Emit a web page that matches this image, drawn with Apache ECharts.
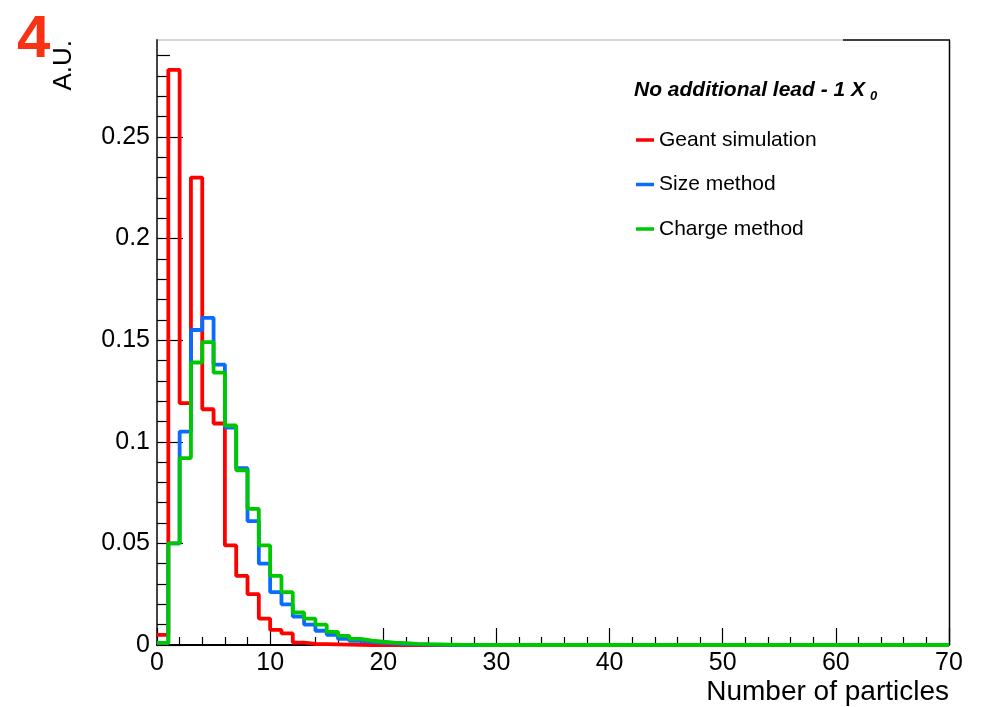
<!DOCTYPE html>
<html>
<head>
<meta charset="utf-8">
<script src="https://cdn.jsdelivr.net/npm/echarts@6/dist/echarts.min.js"></script>
<style>html,body{margin:0;padding:0;background:#fff}#c{width:982px;height:707px}</style>
</head>
<body>
<div id="c"></div>
<script>
// Histogram bins: width 1, from 0 to 70
const xMin = 0;
const binWidth = 1;
const xTicks = [0, 10, 20, 30, 40, 50, 60, 70];
const yTicks = [0, 0.05, 0.1, 0.15, 0.2, 0.25];
const yMinorTicks = [0.01,0.02,0.03,0.04,0.06,0.07,0.08,0.09,0.11,0.12,0.13,0.14,0.16,0.17,0.18,0.19,0.21,0.22,0.23,0.24,0.26,0.27,0.28,0.29];
const seriesNames = ['Geant simulation', 'Size method', 'Charge method'];

const geant = [0.005,0.283,0.119,0.230,0.116,0.109,0.049,0.034,0.025,0.013,
  0.0074,0.0057,0.0012,0.0005,0.0004,0.0003,0.0002,0.0001,0,0,
  0,0,0,0,0,0,0,0,0,0, 0,0,0,0,0,0,0,0,0,0,
  0,0,0,0,0,0,0,0,0,0, 0,0,0,0,0,0,0,0,0,0, 0,0,0,0,0,0,0,0,0,0];
const sizeMethod = [0.001,0.050,0.105,0.155,0.161,0.138,0.107,0.087,0.061,0.040,
  0.026,0.020,0.014,0.010,0.007,0.005,0.003,0.002,0.0015,0.001,
  0.0008,0.0005,0.0003,0.0002,0.0001,0.0001,0,0,0,0, 0,0,0,0,0,0,0,0,0,0,
  0,0,0,0,0,0,0,0,0,0, 0,0,0,0,0,0,0,0,0,0, 0,0,0,0,0,0,0,0,0,0];
const chargeMethod = [0.001,0.050,0.092,0.139,0.149,0.134,0.108,0.086,0.067,0.049,
  0.034,0.026,0.016,0.013,0.010,0.0065,0.0045,0.003,0.0022,0.0016,
  0.0012,0.0009,0.0006,0.0004,0.0003,0.0002,0.0001,0.0001,0,0, 0,0,0,0,0,0,0,0,0,0,
  0,0,0,0,0,0,0,0,0,0, 0,0,0,0,0,0,0,0,0,0, 0,0,0,0,0,0,0,0,0,0];

function toSteps(vals) {
  const pts = vals.map((v, i) => [xMin + i * binWidth, v]);
  pts.push([xMin + vals.length * binWidth, vals[vals.length - 1]]);
  return pts;
}

const FONT = 'Liberation Sans, Arial, Helvetica, sans-serif';
const colors = ['#ff0000', '#0a6cff', '#00c800'];

const chart = echarts.init(document.getElementById('c'), null, {renderer: 'canvas'});
const mkSeries = (name, vals, color, z) => ({
  name, type: 'line', step: 'end', data: toSteps(vals), showSymbol: false, symbol: 'none',
  xAxisIndex: 0, yAxisIndex: 0, z,
  lineStyle: {color, width: 3.8}, itemStyle: {color}, clip: true, animation: false
});

chart.setOption({
  animation: false,
  backgroundColor: '#fff',
  title: [
    {text: '4', left: 17, top: 10, padding: 0, textStyle: {fontFamily: FONT, fontSize: 60, fontWeight: 'bold', color: '#fa3214'}},
    {text: '{a|No additional lead - 1 X}{b|0}', left: 634, top: 77, padding: 0,
     textStyle: {fontFamily: FONT, rich: {
       a: {fontFamily: FONT, fontSize: 21, fontWeight: 'bold', fontStyle: 'italic', color: '#000'},
       b: {fontFamily: FONT, fontSize: 13, fontWeight: 'bold', fontStyle: 'italic', color: '#000', padding: [13, 0, 0, 5]}
     }}}
  ],
  legend: {
    orient: 'vertical', left: 636, top: 129.5, padding: 0, itemWidth: 18, itemHeight: 3.5, itemGap: 23.5,
    icon: 'rect', data: seriesNames,
    textStyle: {fontFamily: FONT, fontSize: 21, color: '#000'}
  },
  grid: {left: 157, right: 33, top: 40, bottom: 62, containLabel: false},
  xAxis: {
    type: 'value', min: xTicks[0], max: xTicks[xTicks.length - 1], interval: 10,
    name: 'Number of particles', nameLocation: 'end', nameGap: 0,
    nameTextStyle: {fontFamily: FONT, fontSize: 28, color: '#000', align: 'right', verticalAlign: 'top', padding: [33, 0, 0, 0]},
    axisLine: {lineStyle: {color: '#000', width: 2}},
    axisTick: {inside: true, length: 17, lineStyle: {color: '#000', width: 1.2}},
    minorTick: {show: true, splitNumber: 5, length: 8, lineStyle: {color: '#000', width: 1.2}},
    axisLabel: {fontFamily: FONT, fontSize: 25, color: '#000', margin: 6},
    splitLine: {show: false}
  },
  yAxis: [
    {
      type: 'value', min: 0, max: 0.2977, position: 'left',
      name: 'A.U.', nameLocation: 'end', nameGap: 0, nameRotate: 90,
      nameTextStyle: {fontFamily: FONT, fontSize: 26, color: '#000', align: 'right', verticalAlign: 'bottom', padding: [0, 0, 80, 0]},
      axisLine: {lineStyle: {color: '#444', width: 2}},
      axisTick: {inside: true, length: 26, customValues: yTicks, lineStyle: {color: '#000', width: 1.2}},
      axisLabel: {fontFamily: FONT, fontSize: 25, color: '#000', margin: 7, customValues: yTicks},
      splitLine: {show: false}
    },
    {
      type: 'value', min: 0, max: 0.2977, position: 'left', offset: 0,
      axisLine: {show: false},
      axisTick: {show: true, inside: true, length: 13, customValues: yMinorTicks, lineStyle: {color: '#000', width: 1.2}},
      axisLabel: {show: false},
      splitLine: {show: false}
    }
  ],
  graphic: [
    {type: 'line', shape: {x1: 157, y1: 40, x2: 843, y2: 40}, style: {stroke: '#c8c8c8', lineWidth: 1.5}, silent: true},
    {type: 'line', shape: {x1: 843, y1: 40, x2: 950, y2: 40}, style: {stroke: '#000', lineWidth: 1.5}, silent: true},
    {type: 'line', shape: {x1: 949.5, y1: 40, x2: 949.5, y2: 645}, style: {stroke: '#000', lineWidth: 1.5}, silent: true}
  ],
  series: [
    mkSeries(seriesNames[0], geant, colors[0], 2),
    mkSeries(seriesNames[1], sizeMethod, colors[1], 3),
    mkSeries(seriesNames[2], chargeMethod, colors[2], 4)
  ]
});
</script>
</body>
</html>
